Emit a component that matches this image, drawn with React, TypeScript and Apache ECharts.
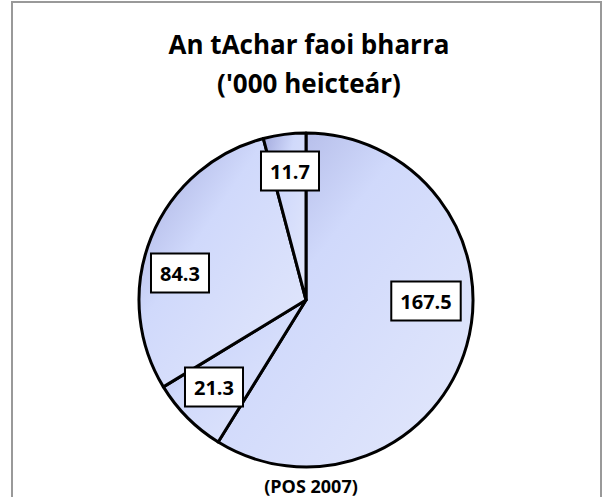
import React, { useEffect, useRef } from "react";
import * as echarts from "echarts";

const categories = ["A", "B", "C", "D"];
const values = [167.5, 21.3, 84.3, 11.7];
const titleLines = ["An tAchar faoi bharra", "('000 heicteár)"];
const sourceNote = "(POS 2007)";

// label box centres, as offsets from the pie centre (px)
const labelOffsets: [number, number][] = [
  [120, 1],
  [-92, 87],
  [-126, -27],
  [-16, -129],
];

const FONT = "'Open Sans', 'Noto Sans', sans-serif";
const CX = 306;
const CY = 300;

export default function App() {
  const ref = useRef<HTMLDivElement>(null);
  useEffect(() => {
    if (!ref.current) return;
    const chart = echarts.init(ref.current, undefined, { renderer: "svg" });
    const grad = new echarts.graphic.LinearGradient(0, 0, 1, 1, [
      { offset: 0, color: "#a3aadd" },
      { offset: 0.38, color: "#d0d9fb" },
      { offset: 1, color: "#e3e8fb" },
    ]);
    chart.setOption({
      animation: false,
      backgroundColor: "#ffffff",
      title: {
        text: titleLines.join("\n"),
        left: 304,
        top: 19,
        textAlign: "center",
        textStyle: {
          fontFamily: FONT,
          fontWeight: "bold",
          fontSize: 26,
          lineHeight: 39,
          color: "#000",
        },
      },
      graphic: [
        {
          type: "rect",
          shape: { x: 12, y: 2, width: 589, height: 510 },
          style: { fill: "none", stroke: "#999999", lineWidth: 2 },
          silent: true,
        },
        {
          type: "text",
          x: 311,
          y: 486,
          style: {
            text: sourceNote,
            fontFamily: FONT,
            fontWeight: "bold",
            fontSize: 18,
            fill: "#000",
            align: "center",
            verticalAlign: "middle",
          },
        },
      ],
      series: [
        {
          type: "pie",
          center: [CX, CY],
          radius: [0, 167],
          startAngle: 90,
          clockwise: true,
          avoidLabelOverlap: false,
          itemStyle: {
            color: grad,
            borderColor: "#000",
            borderWidth: 3,
          },
          label: {
            show: true,
            position: "inside",
            formatter: (p: any) => p.value.toFixed(1),
            fontFamily: FONT,
            fontWeight: "bold",
            fontSize: 20,
            lineHeight: 24,
            color: "#000",
            backgroundColor: "#fff",
            borderColor: "#000",
            borderWidth: 2,
            padding: [7, 8, 6, 8],
          },
          labelLayout: (p: any) => {
            const o = labelOffsets[p.dataIndex];
            return {
              x: CX + o[0],
              y: CY + o[1],
              align: "center",
              verticalAlign: "middle",
            };
          },
          labelLine: { show: false },
          emphasis: { disabled: true },
          data: categories.map((c, i) => ({ name: c, value: values[i] })),
        },
      ],
    });
    return () => chart.dispose();
  }, []);
  return (
    <div
      ref={ref}
      style={{ position: "absolute", left: 0, top: 0, width: 608, height: 497 }}
    />
  );
}
